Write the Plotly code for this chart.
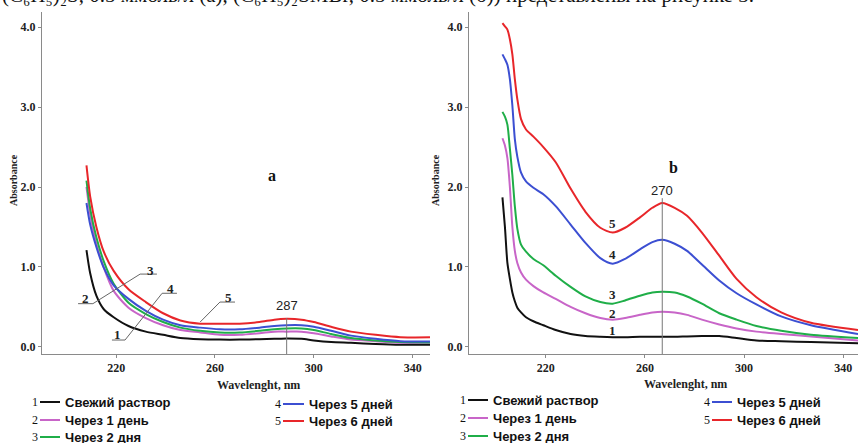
import plotly.graph_objects as go

# ---------------- data ----------------
series_names = ["Свежий раствор", "Через 1 день", "Через 2 дня", "Через 5 дней", "Через 6 дней"]
series_nums = ["1", "2", "3", "4", "5"]
series_colors = ["#111111", "#c865c8", "#1fae48", "#3c4fd2", "#e8262a"]

# panel a
wl_a = [208, 209.5, 212, 215, 219, 225, 232, 239, 246, 254, 262, 270, 278, 284, 289, 295, 300, 307, 315, 325, 335, 347]
a_fresh = [1.21, 0.92, 0.64, 0.47, 0.37, 0.26, 0.19, 0.15, 0.11, 0.095, 0.09, 0.09, 0.095, 0.10, 0.105, 0.10, 0.08, 0.06, 0.05, 0.035, 0.025, 0.025]
a_day1 = [2.00, 1.66, 1.29, 0.99, 0.70, 0.49, 0.36, 0.27, 0.21, 0.18, 0.15, 0.15, 0.17, 0.19, 0.19, 0.19, 0.17, 0.13, 0.09, 0.07, 0.05, 0.05]
a_day2 = [2.08, 1.73, 1.37, 1.07, 0.79, 0.55, 0.41, 0.31, 0.24, 0.20, 0.18, 0.18, 0.20, 0.22, 0.23, 0.23, 0.21, 0.16, 0.11, 0.08, 0.06, 0.055]
a_day5 = [1.80, 1.53, 1.25, 0.99, 0.77, 0.60, 0.45, 0.34, 0.27, 0.24, 0.22, 0.22, 0.24, 0.26, 0.27, 0.27, 0.25, 0.20, 0.14, 0.10, 0.07, 0.065]
a_day6 = [2.27, 1.88, 1.50, 1.19, 0.95, 0.72, 0.56, 0.42, 0.33, 0.29, 0.29, 0.29, 0.31, 0.34, 0.35, 0.34, 0.31, 0.25, 0.19, 0.15, 0.12, 0.12]

# panel b
wl_b = [202.5, 203.5, 204.5, 205.5, 206.5, 207.5, 208.5, 210, 212, 215, 219, 224, 230, 236, 242, 247, 252,
        258, 263, 267, 272, 277, 283, 290, 297, 305, 315, 327, 346]
b_fresh = [1.87, 1.50, 1.05, 0.85, 0.68, 0.57, 0.49, 0.43, 0.37, 0.32, 0.27, 0.21, 0.16, 0.135, 0.125, 0.12, 0.12,
           0.125, 0.125, 0.125, 0.125, 0.13, 0.135, 0.135, 0.11, 0.08, 0.07, 0.06, 0.045]
b_day1 = [2.61, 2.52, 2.36, 2.00, 1.50, 1.20, 1.05, 0.93, 0.84, 0.76, 0.68, 0.60, 0.50, 0.42, 0.36, 0.34, 0.36,
          0.40, 0.43, 0.44, 0.43, 0.40, 0.34, 0.28, 0.23, 0.19, 0.16, 0.13, 0.08]
b_day2 = [2.94, 2.88, 2.78, 2.48, 2.15, 1.76, 1.48, 1.28, 1.19, 1.10, 1.02, 0.89, 0.75, 0.63, 0.56, 0.54, 0.58,
          0.64, 0.68, 0.69, 0.68, 0.63, 0.54, 0.42, 0.34, 0.26, 0.20, 0.15, 0.11]
b_day5 = [3.66, 3.60, 3.53, 3.35, 3.02, 2.60, 2.38, 2.18, 2.07, 1.99, 1.91, 1.76, 1.53, 1.30, 1.11, 1.04, 1.10,
          1.22, 1.31, 1.34, 1.29, 1.20, 1.03, 0.83, 0.67, 0.53, 0.38, 0.27, 0.16]
b_day6 = [4.05, 4.01, 3.97, 3.85, 3.66, 3.35, 3.10, 2.85, 2.72, 2.63, 2.50, 2.31, 1.98, 1.69, 1.49, 1.43, 1.49,
          1.62, 1.74, 1.80, 1.74, 1.64, 1.43, 1.14, 0.85, 0.62, 0.43, 0.30, 0.21]

y_ticks = [0, 1, 2, 3, 4]
y_ticktext = ["0.0", "1.0", "2.0", "3.0", "4.0"]
x_ticks = [220, 260, 300, 340]
x_ticktext = ["220", "260", "300", "340"]

peak_a_pos, peak_a_label = 289, "287"
peak_b_pos, peak_b_label = 267, "270"

a_series = [a_fresh, a_day1, a_day2, a_day5, a_day6]
b_series = [b_fresh, b_day1, b_day2, b_day5, b_day6]

# ---------------- figure ----------------
W, H = 858, 443
ML, MR, MT, MB = 42, 0, 12, 89
PW, PH = W - ML - MR, H - MT - MB


def pxx(p):
    return (p - ML) / PW


def pxy(p):
    return (H - MB - p) / PH


SERIF = "Liberation Serif"
SANS = "Liberation Sans"
AX = "#8a8a8a"

fig = go.Figure()
for vals, name, col in zip(a_series, series_names, series_colors):
    fig.add_trace(go.Scatter(x=wl_a, y=vals, mode="lines", name=name, xaxis="x", yaxis="y",
                             line=dict(color=col, width=2, shape="spline", smoothing=0.7), showlegend=False))
for vals, name, col in zip(b_series, series_names, series_colors):
    fig.add_trace(go.Scatter(x=wl_b, y=vals, mode="lines", name=name, xaxis="x2", yaxis="y2",
                             line=dict(color=col, width=2, shape="spline", smoothing=0.7), showlegend=False))

tickfont = dict(family=SERIF, size=12, color="#222", weight="bold")
axis_common = dict(showline=True, linecolor=AX, linewidth=1, ticks="outside", ticklen=3, tickcolor=AX,
                   showgrid=False, zeroline=False, tickfont=tickfont, automargin=False)

fig.update_layout(
    width=W, height=H, margin=dict(l=ML, r=MR, t=MT, b=MB),
    paper_bgcolor="white", plot_bgcolor="white",
    xaxis=dict(domain=[0, pxx(430)], range=[190, 347], tickvals=x_ticks, ticktext=x_ticktext, anchor="y", **axis_common),
    yaxis=dict(domain=[0, 1], range=[-0.09, 4.19], tickvals=y_ticks, ticktext=y_ticktext, anchor="x", **axis_common),
    xaxis2=dict(domain=[pxx(469), 1], range=[189, 346], tickvals=x_ticks, ticktext=x_ticktext, anchor="y2", **axis_common),
    yaxis2=dict(domain=[0, 1], range=[-0.09, 4.19], tickvals=y_ticks, ticktext=y_ticktext, anchor="x2", **axis_common),
)

ann = []
shapes = []


def A(**kw):
    kw.setdefault("showarrow", False)
    kw.setdefault("xanchor", "center")
    kw.setdefault("yanchor", "middle")
    ann.append(kw)


# cut-off document text at top (only its lower part is visible)
A(xref="paper", yref="paper", x=pxx(0), y=pxy(-5), xanchor="left",
  text="(C₆H₅)₂S, 0.5 ммоль/л (a), (C₆H₅)₂SMBr, 0.5 ммоль/л (б)) представлены на рисунке 3.",
  font=dict(family=SERIF, size=21, color="#111"))

# axis titles
for xp in (13, 435):
    A(xref="paper", yref="paper", x=pxx(xp), y=pxy(180), textangle=-90,
      text="Absorbance", font=dict(family=SERIF, size=10, color="#222", weight="bold"))
for xp, yp in ((258, 385), (685, 384)):
    A(xref="paper", yref="paper", x=pxx(xp), y=pxy(yp),
      text="Wavelenght, nm", font=dict(family=SERIF, size=12, color="#222", weight="bold"))

# panel letters
A(xref="x", yref="y", x=283, y=2.14, text="a", font=dict(family=SERIF, size=16, color="#111", weight="bold"))
A(xref="x2", yref="y2", x=271.5, y=2.24, text="b", font=dict(family=SERIF, size=16, color="#111", weight="bold"))

# peak markers
shapes.append(dict(type="line", xref="x", yref="y", x0=peak_a_pos, x1=peak_a_pos, y0=0.36, y1=-0.09,
                   line=dict(color="#777", width=1)))
A(xref="x", yref="y", x=peak_a_pos, y=0.52, text=peak_a_label, font=dict(family=SANS, size=13, color="#222"))
shapes.append(dict(type="line", xref="x2", yref="y2", x0=peak_b_pos, x1=peak_b_pos, y0=1.86, y1=-0.09,
                   line=dict(color="#777", width=1)))
A(xref="x2", yref="y2", x=peak_b_pos, y=1.95, text=peak_b_label,
  font=dict(family=SANS, size=13, color="#222"))

numfont = dict(family=SERIF, size=13, color="#222", weight="bold")
# panel a number labels with leader lines
a_labels = [("1", 220.4, 0.15, 218.3, 223.6, 0.085),
            ("2", 207.4, 0.60, 204.6, 210.6, 0.54),
            ("3", 233.7, 0.96, 229.7, 236.5, 0.91),
            ("4", 241.8, 0.73, 238.6, 244.6, 0.67),
            ("5", 265.3, 0.62, 262.0, 268.1, 0.56)]
for t, x, y, u0, u1, uy in a_labels:
    A(xref="x", yref="y", x=x, y=y, text=t, font=numfont)
    shapes.append(dict(type="line", xref="x", yref="y", x0=u0, x1=u1, y0=uy, y1=uy, line=dict(color="#666", width=1)))
leaders = [(210.6, 0.54, 229.7, 0.91), (223.6, 0.085, 238.6, 0.67), (254.0, 0.31, 262.0, 0.56)]
for x0, y0, x1, y1 in leaders:
    shapes.append(dict(type="line", xref="x", yref="y", x0=x0, y0=y0, x1=x1, y1=y1, line=dict(color="#666", width=1)))

# panel b number labels
b_label_y = [0.20, 0.42, 0.65, 1.15, 1.54]
for t, y in zip(series_nums, b_label_y):
    A(xref="x2", yref="y2", x=247.1, y=y, text=t, font=numfont)

# custom legends
legfont = dict(family=SANS, size=13, color="#111", weight="bold")
legnumfont = dict(family=SERIF, size=12, color="#111")
leg_a = [(35, 40, 60, 63, 402), (35, 40, 60, 63, 420), (35, 40, 60, 63, 437),
         (278, 283, 304, 307, 404), (278, 283, 304, 307, 421)]
leg_b = [(463, 468, 488, 491, 400), (463, 468, 488, 491, 418), (463, 468, 488, 491, 436),
         (707, 712, 732, 735, 402), (707, 712, 732, 735, 420)]
for layout_pos in (leg_a, leg_b):
    for (nx, l0, l1, tx, yy), num, name, col in zip(layout_pos, series_nums, series_names, series_colors):
        A(xref="paper", yref="paper", x=pxx(nx), y=pxy(yy), text=num, font=legnumfont)
        shapes.append(dict(type="line", xref="paper", yref="paper", x0=pxx(l0), x1=pxx(l1), y0=pxy(yy), y1=pxy(yy),
                           line=dict(color=col, width=2)))
        A(xref="paper", yref="paper", x=pxx(tx), y=pxy(yy), xanchor="left", text=name, font=legfont)

fig.update_layout(annotations=ann, shapes=shapes)
fig.write_html("out.html", config={"displayModeBar": False},
               post_script="document.body.style.margin='0';document.body.style.overflow='hidden';")
